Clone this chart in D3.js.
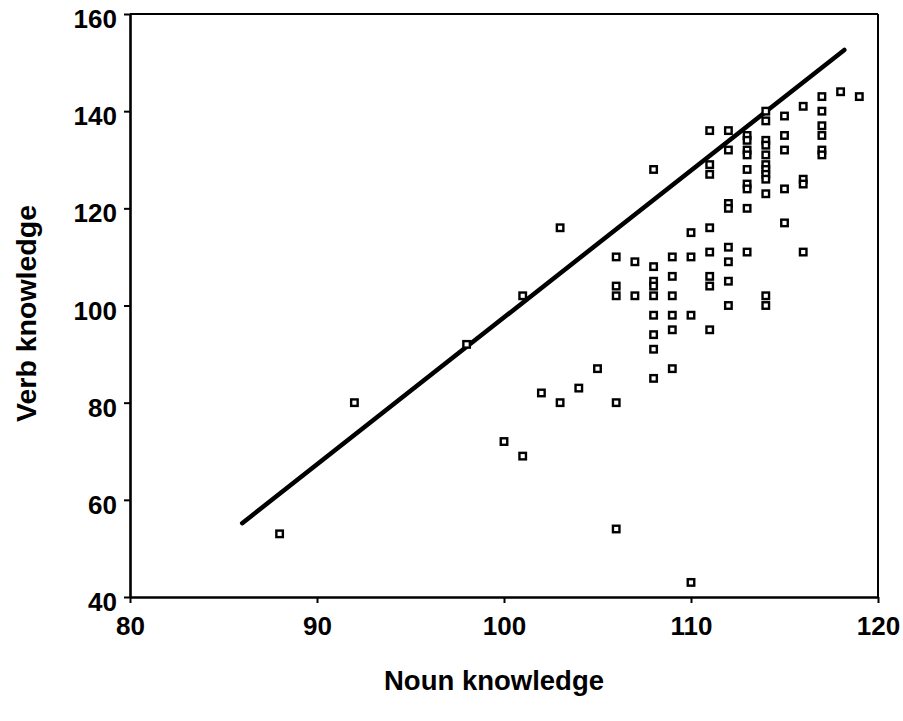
<!DOCTYPE html>
<html>
<head>
<meta charset="utf-8">
<script src="https://cdn.jsdelivr.net/npm/d3@7"></script>
<style>
  body { margin: 0; background: #fff; }
  text { font-family: "Liberation Sans", Arial, sans-serif; font-weight: bold; fill: #000; }
</style>
</head>
<body>
<div id="chart"></div>
<script>
// noun / verb knowledge scores
let nounScores = [
  88, 92, 98, 100, 101, 101, 102, 103, 103, 104, 105,
  106, 106, 106, 106, 106,
  107, 107,
  108, 108, 108, 108, 108, 108, 108, 108, 108,
  109, 109, 109, 109, 109, 109,
  110, 110, 110, 110,
  111, 111, 111, 111, 111, 111, 111, 111,
  112, 112, 112, 112, 112, 112, 112, 112,
  113, 113, 113, 113, 113, 113, 113, 113, 113,
  114, 114, 114, 114, 114, 114, 114, 114, 114, 114, 114, 114,
  115, 115, 115, 115, 115,
  116, 116, 116, 116,
  117, 117, 117, 117, 117, 117,
  118, 119
];
let verbScores = [
  53, 80, 92, 72, 69, 102, 82, 80, 116, 83, 87,
  110, 104, 102, 80, 54,
  109, 102,
  128, 108, 105, 104, 102, 98, 94, 91, 85,
  110, 106, 102, 98, 95, 87,
  115, 110, 98, 43,
  136, 129, 127, 116, 111, 106, 104, 95,
  136, 132, 121, 120, 112, 109, 105, 100,
  135, 134, 132, 131, 128, 125, 124, 120, 111,
  140, 138, 134, 133, 131, 129, 128, 127, 126, 123, 102, 100,
  139, 135, 132, 124, 117,
  141, 126, 125, 111,
  143, 140, 137, 135, 132, 131,
  144, 143
];

// fitted line ends
let fitX = [86, 118.2];
let fitY = [55.2, 152.6];

let xTicks = [80, 90, 100, 110, 120];
let yTicks = [40, 60, 80, 100, 120, 140, 160];

let width = 903, height = 721;
let padding = {top: 14, right: 25, bottom: 124, left: 130};
let plot_w = width - padding.left - padding.right;
let plot_h = height - padding.top - padding.bottom;

let svg = d3.select("#chart")
  .append("svg")
  .attr("width", width)
  .attr("height", height);

let g = svg.append("g")
  .attr("transform", "translate(" + padding.left + "," + padding.top + ")");

let xScale = d3.scaleLinear().domain([80, 120]).range([0, plot_w]);
let yScale = d3.scaleLinear().domain([40, 160]).range([plot_h, 0]);

let xAxis = d3.axisBottom(xScale)
  .tickValues(xTicks)
  .tickSizeInner(6)
  .tickSizeOuter(0)
  .tickPadding(14);

let yAxis = d3.axisLeft(yScale)
  .tickValues(yTicks)
  .tickSizeInner(6)
  .tickSizeOuter(0)
  .tickPadding(7);

// frame top + right
g.append("line")
  .attr("x1", 0).attr("x2", plot_w)
  .attr("y1", 0).attr("y2", 0)
  .attr("stroke", "#000").attr("stroke-width", 2);
g.append("line")
  .attr("x1", plot_w).attr("x2", plot_w)
  .attr("y1", 0).attr("y2", plot_h)
  .attr("stroke", "#000").attr("stroke-width", 2);

let gx = g.append("g")
  .attr("class", "x axis")
  .attr("transform", "translate(0," + plot_h + ")")
  .call(xAxis);

let gy = g.append("g")
  .attr("class", "y axis")
  .call(yAxis);

[gx, gy].forEach(function(ax) {
  ax.select(".domain").attr("stroke", "#000").attr("stroke-width", 2.6);
  ax.selectAll(".tick line").attr("stroke", "#000").attr("stroke-width", 2);
  ax.selectAll(".tick text")
    .style("font-family", "'Liberation Sans', Arial, sans-serif")
    .style("font-weight", "bold")
    .style("font-size", "26px")
    .attr("fill", "#000");
});
// labels sit a little under their ticks in the scan
gy.selectAll(".tick text").attr("dy", "0.52em");

// regression line
g.append("line")
  .attr("x1", xScale(fitX[0])).attr("y1", yScale(fitY[0]))
  .attr("x2", xScale(fitX[1])).attr("y2", yScale(fitY[1]))
  .attr("stroke", "#000")
  .attr("stroke-width", 4.5)
  .attr("stroke-linecap", "round");

let pts = nounScores.map((d, i) => ({noun: d, verb: verbScores[i]}));
let sz = 6.5;

g.selectAll("rect.pt")
  .data(pts)
  .enter()
  .append("rect")
  .attr("class", "pt")
  .attr("x", d => xScale(d.noun) - sz / 2)
  .attr("y", d => yScale(d.verb) - sz / 2)
  .attr("width", sz)
  .attr("height", sz)
  .attr("fill", "#fff")
  .attr("stroke", "#000")
  .attr("stroke-width", 2.4);

svg.append("text")
  .attr("x", padding.left + plot_w / 2 - 10)
  .attr("y", 690)
  .style("text-anchor", "middle")
  .style("font-size", "27.5px")
  .text("Noun knowledge");

svg.append("text")
  .attr("transform", "translate(36," + (padding.top + plot_h / 2 + 8) + ") rotate(-90)")
  .style("text-anchor", "middle")
  .style("font-size", "28.5px")
  .text("Verb knowledge");
</script>
</body>
</html>
